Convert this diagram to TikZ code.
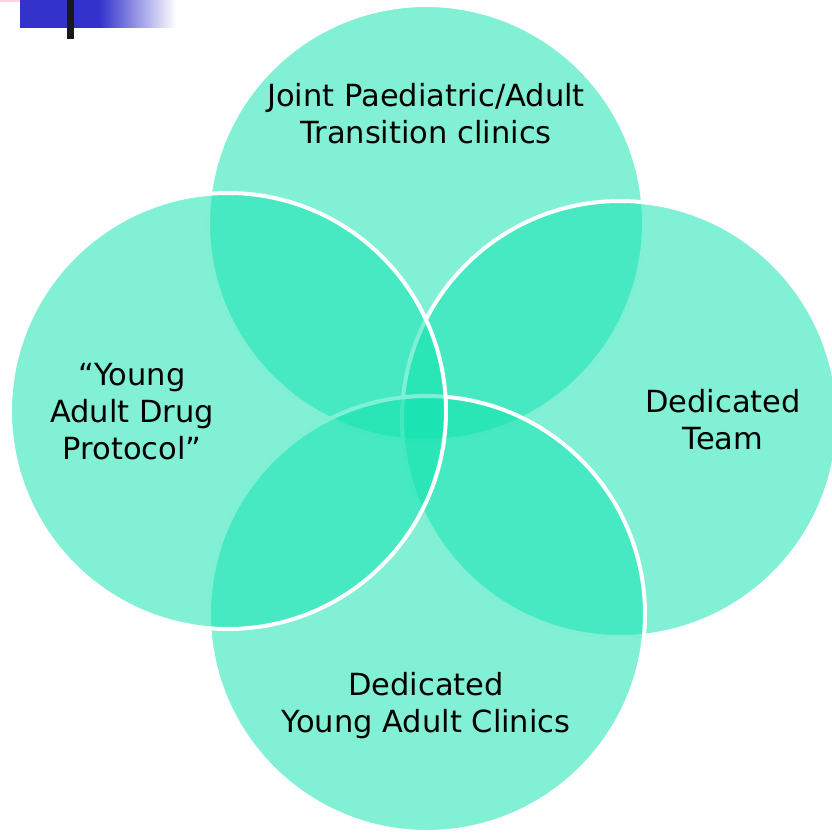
\documentclass[tikz,border=0pt]{standalone}
\usepackage{fontspec}
\setmainfont{DejaVu Sans}
\definecolor{mint}{RGB}{18,227,175}
\definecolor{barblue}{RGB}{51,51,204}
\definecolor{barpink}{RGB}{255,210,220}
\begin{document}
\begin{tikzpicture}[x=1pt,y=-1pt,
  venn/.style={fill=mint,fill opacity=0.535,draw=white,line width=4pt},
  lbl/.style={font=\fontsize{30.5}{37}\selectfont,align=center,text=black,inner sep=0pt}]
\useasboundingbox (0,0) rectangle (831,833);
% decoration top-left
\fill[barpink] (0,0) rectangle (52,2);
\fill[barblue] (20,0) rectangle (100,27.5);
\shade[left color=barblue,right color=white] (99.5,0) rectangle (176,27.5);
\fill[black!90] (67,0) rectangle (74,38.5);
% circles
\path[venn] (426,223) circle (218);
\path[venn] (620,419) circle (218);
\path[venn] (427,614) circle (218);
\path[venn] (228,411) circle (218);
% labels
\node[lbl] (top) at (426,114) {Joint Paediatric/Adult\\Transition clinics};
\node[lbl] (left) at (132,412) {“Young\\Adult Drug\\Protocol”};
\node[lbl] (right) at (723,420) {Dedicated\\Team};
\node[lbl] (bottom) at (426,706) {Dedicated\\Young Adult Clinics};
\end{tikzpicture}
\end{document}
